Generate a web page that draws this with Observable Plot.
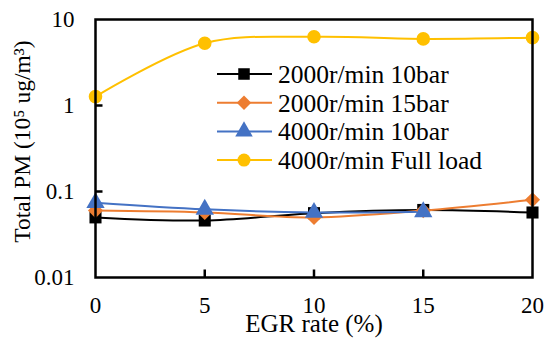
<!DOCTYPE html>
<html><head><meta charset="utf-8">
<script src="https://cdn.jsdelivr.net/npm/d3@7"></script>
<script src="https://cdn.jsdelivr.net/npm/@observablehq/plot@0.6"></script>
<style>
body{margin:0;background:#fff;}
#wrap{position:relative;width:550px;height:343px;}
#legend{position:absolute;left:0;top:0;pointer-events:none;}
</style>
</head><body>
<div id="wrap"></div>
<script>
const egr = [0, 5, 10, 15, 20];
const seriesNames = ["2000r/min 10bar", "2000r/min 15bar", "4000r/min 10bar", "4000r/min Full load"];
const seriesColors = ["#000000", "#ED7D31", "#4472C4", "#FFC000"];
const seriesSymbols = ["square", "diamond2", "triangle", "circle"];
const pm2000_10 = [0.050, 0.046, 0.056, 0.061, 0.057];
const pm2000_15 = [0.060, 0.057, 0.050, 0.060, 0.080];
const pm4000_10 = [0.074, 0.062, 0.057, 0.058];
const pm4000_full = [1.27, 5.3, 6.3, 5.95, 6.15];
const yTicks = [10, 1, 0.1, 0.01];
const yTickLabels = ["10", "1", "0.1", "0.01"];
const yInnerTicks = [1, 0.1];
const xTicks = [0, 5, 10, 15, 20];
const xInnerTicks = [5, 10, 15];
const xTitle = "EGR rate (%)";
const yTitle = "Total PM (10\u2075 ug/m\u00B3)";

const allSeries = [pm2000_10, pm2000_15, pm4000_10, pm4000_full];
const data = [];
allSeries.forEach((vals, i) => vals.forEach((v, j) => data.push({series: seriesNames[i], x: egr[j], y: v})));

const W = 550, H = 343, mL = 95, mR = 18, mT = 19, mB = 66;
const font = "Liberation Serif, Times New Roman, serif";
const tickRight = {draw(ctx) { ctx.moveTo(0, 0); ctx.lineTo(7, 0); }};
const tickUp = {draw(ctx) { ctx.moveTo(0, 0); ctx.lineTo(0, -8); }};

const chart = Plot.plot({
  width: W, height: H,
  marginLeft: mL, marginRight: mR, marginTop: mT, marginBottom: mB,
  style: {fontFamily: font, fontSize: "23px", color: "#000", background: "#fff"},
  x: {domain: [0, 20]},
  y: {type: "log", domain: [0.01, 10]},
  color: {domain: seriesNames, range: seriesColors},
  symbol: {domain: seriesNames, range: seriesSymbols},
  marks: [
    Plot.axisY(yTicks, {tickSize: 0, tickPadding: 21, tickFormat: d => yTickLabels[yTicks.indexOf(d)], fontSize: 23, label: null}),
    Plot.axisX(xTicks, {tickSize: 0, tickPadding: 19, tickFormat: d => String(d), fontSize: 23, label: null}),
    Plot.dot(yInnerTicks, {x: () => 0, y: d => d, symbol: tickRight, fill: "none", stroke: "#000", strokeWidth: 2.5}),
    Plot.dot(xInnerTicks, {x: d => d, y: () => 0.01, symbol: tickUp, fill: "none", stroke: "#000", strokeWidth: 2.5}),
    Plot.text([xTitle], {frameAnchor: "bottom", dy: 54, fontSize: 25, text: d => d}),
    Plot.text([yTitle], {frameAnchor: "left", textAnchor: "middle", rotate: -90, dx: -73, dy: -7, fontSize: 23.5, text: d => d}),
    Plot.line(data, {x: "x", y: "y", z: "series", stroke: "series", strokeWidth: 2, curve: "catmull-rom"}),
    Plot.dot(data, {x: "x", y: "y", fill: "series", symbol: "series", r: 6.8, stroke: "none"}),
    Plot.frame({stroke: "#000", strokeWidth: 2.5})
  ]
});
const wrap = document.getElementById("wrap");
wrap.appendChild(chart);

const lg = d3.select(wrap).append("svg").attr("id", "legend").attr("width", W).attr("height", H);
const symMap = {square: d3.symbolSquare, diamond2: d3.symbolDiamond2, triangle: d3.symbolTriangle, circle: d3.symbolCircle};
seriesNames.forEach((name, i) => {
  const cy = 74 + i * 28.7;
  const g = lg.append("g");
  g.append("line").attr("x1", 217).attr("x2", 272).attr("y1", cy).attr("y2", cy).attr("stroke", seriesColors[i]).attr("stroke-width", 2);
  g.append("path").attr("transform", `translate(244,${cy})`).attr("d", d3.symbol(symMap[seriesSymbols[i]], Math.PI * 6.5 * 6.5)()).attr("fill", seriesColors[i]);
  g.append("text").attr("x", 278).attr("y", cy).attr("dy", "0.35em").attr("font-family", font).attr("font-size", 25.5).text(name);
});
</script>
</body></html>
